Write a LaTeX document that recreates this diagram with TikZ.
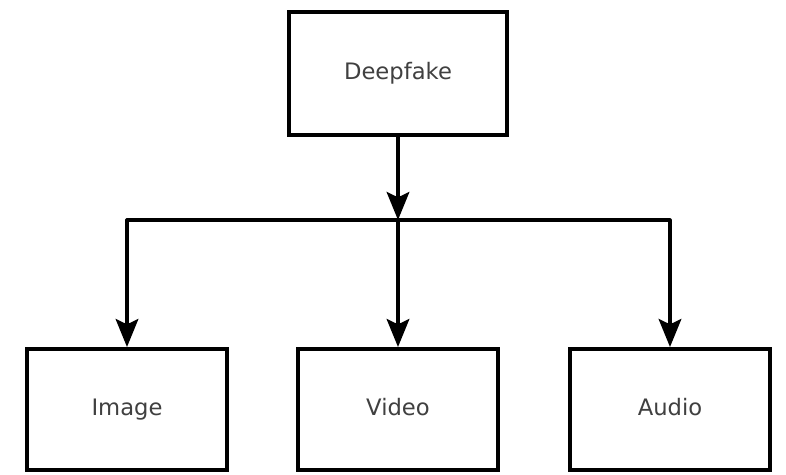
\documentclass[tikz,border=0pt]{standalone}
\usepackage{fontspec}
\setmainfont{DejaVu Sans}
\usetikzlibrary{arrows.meta}

\begin{document}
\begin{tikzpicture}[x=0.75pt, y=-0.75pt,
        box/.style={draw, line width=3pt, fill=white, text=black!75, font=\fontsize{17}{20}\selectfont,
            text height=12.5pt, text depth=3.5pt,
            minimum width=150pt, minimum height=90.75pt, inner sep=0pt},
        link/.style={line width=2.4pt, line join=round, -{Stealth[length=21pt, width=17pt, inset=4pt]}}]

        \useasboundingbox (0, 0) rectangle (786, 475);

        \node[box, minimum width=163.5pt, minimum height=92.25pt] (deepfake) at (398, 73.5) {Deepfake};
        \coordinate (split) at (398, 220);

        \foreach \name/\txt/\x in {image/Image/127, video/Video/398, audio/Audio/670} {
            \node[box] (\name) at (\x, 409.5) {\txt};
        }

        \draw[link] (deepfake.south) -- (split);
        \draw[link] (split) -| (image.north);
        \draw[link] (split) -- (video.north);
        \draw[link] (split) -| (audio.north);
    \end{tikzpicture}
\end{document}
